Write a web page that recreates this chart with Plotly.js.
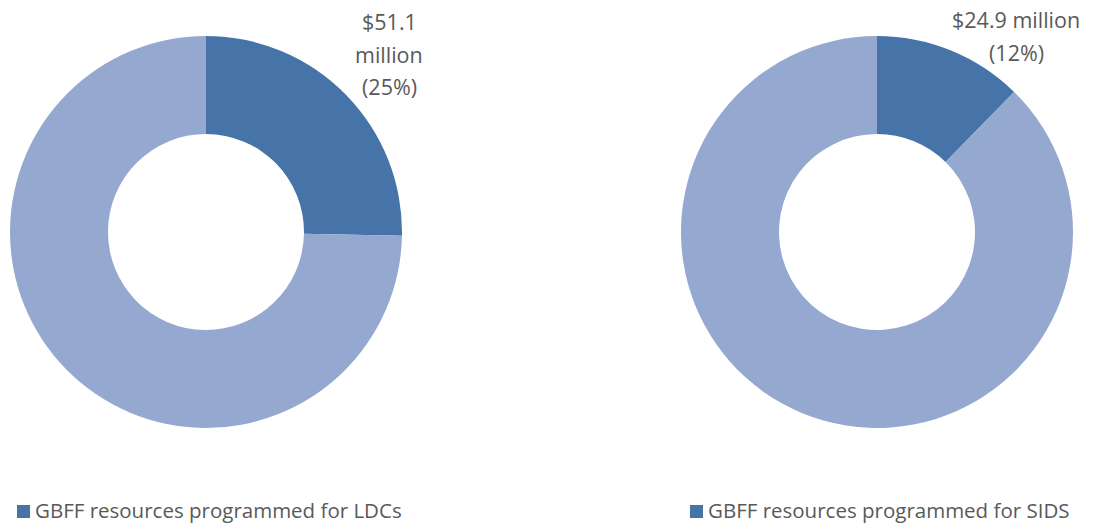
<!DOCTYPE html>
<html>
<head>
<meta charset="utf-8">
<script src="https://cdn.plot.ly/plotly-3.0.1.min.js"></script>
<style>html,body{margin:0;padding:0;background:#fff;}#chart{width:1094px;height:523px;}</style>
</head>
<body>
<div id="chart"></div>
<script>
// Data (US$ million)
const sliceLabels = ["Programmed", "Other GBFF resources"];
const ldcValues = [51.1, 150.9];
const sidsValues = [24.9, 177.1];
const legendLabels = ["GBFF resources programmed for LDCs", "GBFF resources programmed for SIDS"];

const DARK = "#4674A8";
const LIGHT = "#95A9D0";
const TXT = "#595959";
const FONT = "Open Sans, sans-serif";
const W = 1094, H = 523;

function px(x){ return x / W; }
function py(y){ return (H - y) / H; }

function pieTrace(values, x0, x1){
  return {
    type: "pie",
    labels: sliceLabels,
    values: values,
    hole: 0.5,
    sort: false,
    direction: "clockwise",
    rotation: 0,
    textinfo: "none",
    hoverinfo: "label+value+percent",
    showlegend: false,
    marker: {colors: [DARK, LIGHT], line: {width: 0}},
    domain: {x: [px(x0), px(x1)], y: [py(428), py(36)]}
  };
}

function pct(values){
  const t = values.reduce((a,b)=>a+b,0);
  return Math.round(values[0] / t * 100) + "%";
}

const annotations = [];
const shapes = [];

// Left label: three lines
const leftLines = ["$" + ldcValues[0].toFixed(1), "million", "(" + pct(ldcValues) + ")"];
const leftYs = [22, 55, 87];
leftLines.forEach((t,i)=>annotations.push({
  text: t, x: px(389), y: py(leftYs[i]), xref: "paper", yref: "paper",
  xanchor: "center", yanchor: "middle", showarrow: false,
  font: {family: FONT, size: 21.5, color: TXT}
}));
// Right label: two lines
const rightLines = ["$" + sidsValues[0].toFixed(1) + " million", "(" + pct(sidsValues) + ")"];
const rightYs = [20, 52];
rightLines.forEach((t,i)=>annotations.push({
  text: t, x: px(1016), y: py(rightYs[i]), xref: "paper", yref: "paper",
  xanchor: "center", yanchor: "middle", showarrow: false,
  font: {family: FONT, size: 21.5, color: TXT}
}));

// Legends
const legX = [17, 690];
legendLabels.forEach((t,i)=>{
  shapes.push({type: "rect", xref: "paper", yref: "paper",
    x0: px(legX[i]), x1: px(legX[i] + 13), y0: py(518), y1: py(505),
    fillcolor: DARK, line: {width: 0}});
  annotations.push({
    text: t, x: px(legX[i] + 17), y: py(510), xref: "paper", yref: "paper",
    xanchor: "left", yanchor: "middle", showarrow: false, borderpad: 0,
    font: {family: FONT, size: 20.5, color: TXT}
  });
});

const layout = {
  width: W, height: H,
  margin: {l: 0, r: 0, t: 0, b: 0},
  paper_bgcolor: "#fff",
  showlegend: false,
  annotations: annotations,
  shapes: shapes
};

Plotly.newPlot("chart", [pieTrace(ldcValues, 10, 402), pieTrace(sidsValues, 681, 1073)], layout, {displayModeBar: false, staticPlot: true});
</script>
</body>
</html>
